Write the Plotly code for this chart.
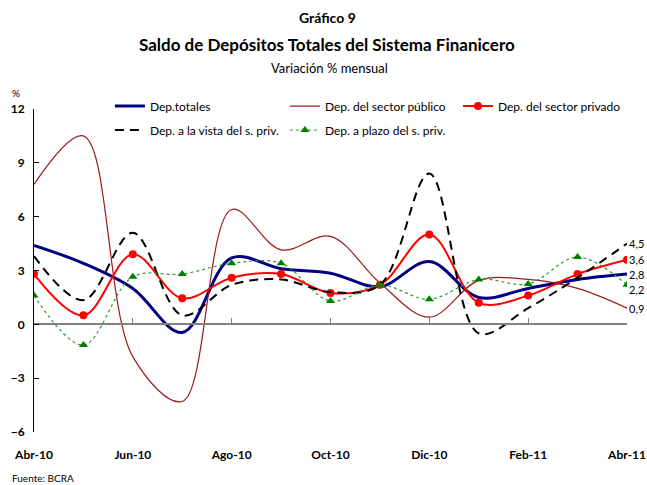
import plotly.graph_objects as go

months = ["Abr-10", "May-10", "Jun-10", "Jul-10", "Ago-10", "Sep-10", "Oct-10",
          "Nov-10", "Dic-10", "Ene-11", "Feb-11", "Mar-11", "Abr-11"]
tick_labels = ["Abr-10", "Jun-10", "Ago-10", "Oct-10", "Dic-10", "Feb-11", "Abr-11"]

dep_totales = [4.4, 3.4, 2.0, -0.45, 3.7, 3.1, 2.85, 2.1, 3.5, 1.5, 2.0, 2.5, 2.8]
dep_publico = [7.8, 10.5, -1.8, -4.3, 6.4, 4.15, 4.9, 2.3, 0.4, 2.45, 2.5, 2.0, 0.9]
dep_privado = [2.8, 0.5, 3.9, 1.45, 2.6, 2.8, 1.75, 2.2, 5.0, 1.2, 1.6, 2.8, 3.6]
dep_vista = [3.8, 1.35, 5.1, 0.5, 2.2, 2.5, 1.8, 2.2, 8.4, -0.5, 0.9, 2.6, 4.5]
dep_plazo = [1.6, -1.15, 2.65, 2.8, 3.4, 3.4, 1.3, 2.2, 1.4, 2.5, 2.25, 3.75, 2.2]

y_min, y_max = -6, 12
FONT = "Lato"
xi = list(range(len(months)))

fig = go.Figure()
fig.add_trace(go.Scatter(x=xi, y=dep_totales, name="Dep.totales", mode="lines",
                         line=dict(color="#000080", width=3, shape="spline", smoothing=1.0),
                         legend="legend"))
fig.add_trace(go.Scatter(x=xi, y=dep_publico, name="Dep. del sector público", mode="lines",
                         line=dict(color="#9B1B1B", width=1.2, shape="spline", smoothing=1.0),
                         legend="legend"))
fig.add_trace(go.Scatter(x=xi, y=dep_privado, name="Dep. del sector privado", mode="lines+markers",
                         line=dict(color="#FF0000", width=2, shape="spline", smoothing=1.0),
                         marker=dict(color="#FF0000", size=8, symbol="circle"),
                         legend="legend3"))
fig.add_trace(go.Scatter(x=xi, y=dep_vista, name="Dep. a la vista del s. priv.", mode="lines",
                         line=dict(color="#000000", width=2, dash="9px,6px", shape="spline", smoothing=1.0),
                         legend="legend2"))
fig.add_trace(go.Scatter(x=xi, y=dep_plazo, name="Dep. a plazo del s. priv.", mode="lines+markers",
                         line=dict(color="#2E9B2E", width=1.2, dash="dot", shape="spline", smoothing=1.0),
                         marker=dict(color="#008000", size=8, symbol="triangle-up"),
                         legend="legend2"))
# helper trace so the zero-line axis is drawn
fig.add_trace(go.Scatter(x=xi, y=dep_totales, xaxis="x2", mode="lines", opacity=0,
                         showlegend=False, hoverinfo="skip", line=dict(width=0)))

zero_pos = (0 - y_min) / (y_max - y_min)

legend_common = dict(orientation="h", xanchor="left", yanchor="middle",
                     entrywidth=130, entrywidthmode="pixels", bgcolor="rgba(0,0,0,0)",
                     font=dict(family=FONT, size=12))

fig.update_layout(
    width=647, height=485,
    margin=dict(l=34, r=20, t=109, b=53, autoexpand=False),
    paper_bgcolor="white", plot_bgcolor="white",
    font=dict(family=FONT, size=12, color="black"),
    showlegend=True,
    xaxis=dict(range=[0, 12], tickvals=[0, 2, 4, 6, 8, 10, 12], ticktext=tick_labels,
               showline=False, showgrid=False, zeroline=False, ticks="",
               tickfont=dict(family=FONT, size=12, color="black", weight="bold"),
               ticklabelstandoff=14),
    xaxis2=dict(range=[0, 12], overlaying="x", anchor="free", position=zero_pos,
                side="bottom", showline=True, linecolor="#808080", linewidth=2,
                ticks="inside", ticklen=5, tickcolor="#808080", tickwidth=1,
                tickvals=[0, 2, 4, 6, 8, 10, 12], showticklabels=False,
                showgrid=False, zeroline=False),
    yaxis=dict(range=[y_min, y_max], tickvals=[-6, -3, 0, 3, 6, 9, 12],
               showline=True, linecolor="black", linewidth=1,
               ticks="inside", ticklen=5, tickcolor="black",
               showgrid=False, zeroline=False,
               tickfont=dict(family=FONT, size=12, color="black", weight="bold"),
               ticklabelstandoff=6),
    legend=dict(x=0.128, y=1.009, **legend_common),
    legend3=dict(x=0.715, y=1.009, **legend_common),
    legend2=dict(x=0.128, y=0.935, **legend_common),
)

def px_to_paper_y(py):
    return (432 - py) / 323

def px_to_paper_x(px):
    return (px - 34) / 593

annotations = [
    dict(text="<b>Gráfico 9</b>", x=px_to_paper_x(327), y=px_to_paper_y(17), font=dict(size=14)),
    dict(text="<b>Saldo de Depósitos Totales del Sistema Finanicero</b>", x=px_to_paper_x(327),
         y=px_to_paper_y(45), font=dict(size=17)),
    dict(text="Variación % mensual", x=px_to_paper_x(329), y=px_to_paper_y(68), font=dict(size=13)),
    dict(text="%", x=px_to_paper_x(16), y=px_to_paper_y(93), font=dict(size=10)),
    dict(text="Fuente: BCRA", x=px_to_paper_x(10), y=px_to_paper_y(478), xanchor="left", font=dict(size=10)),
]
for a in annotations:
    a.setdefault("xanchor", "center")
    fig.add_annotation(xref="paper", yref="paper", yanchor="middle", showarrow=False,
                       font=dict(family=FONT, color="black", size=a["font"]["size"]),
                       **{k: v for k, v in a.items() if k != "font"})

end_series = [dep_vista, dep_privado, dep_totales, dep_plazo, dep_publico]
end_shift = [0, 0, 0, -5, 0]
for s, sh in zip(end_series, end_shift):
    v = s[-1]
    fig.add_annotation(x=12, y=v, xref="x", yref="y", xanchor="left", yanchor="middle",
                       xshift=1, yshift=sh, showarrow=False, borderpad=0,
                       text=f"{v:.1f}".replace(".", ","),
                       font=dict(family=FONT, size=11, color="black"))

fig.write_html("out.html", config={"displayModeBar": False},
               post_script="document.body.style.margin='0';document.body.style.overflow='hidden';")
